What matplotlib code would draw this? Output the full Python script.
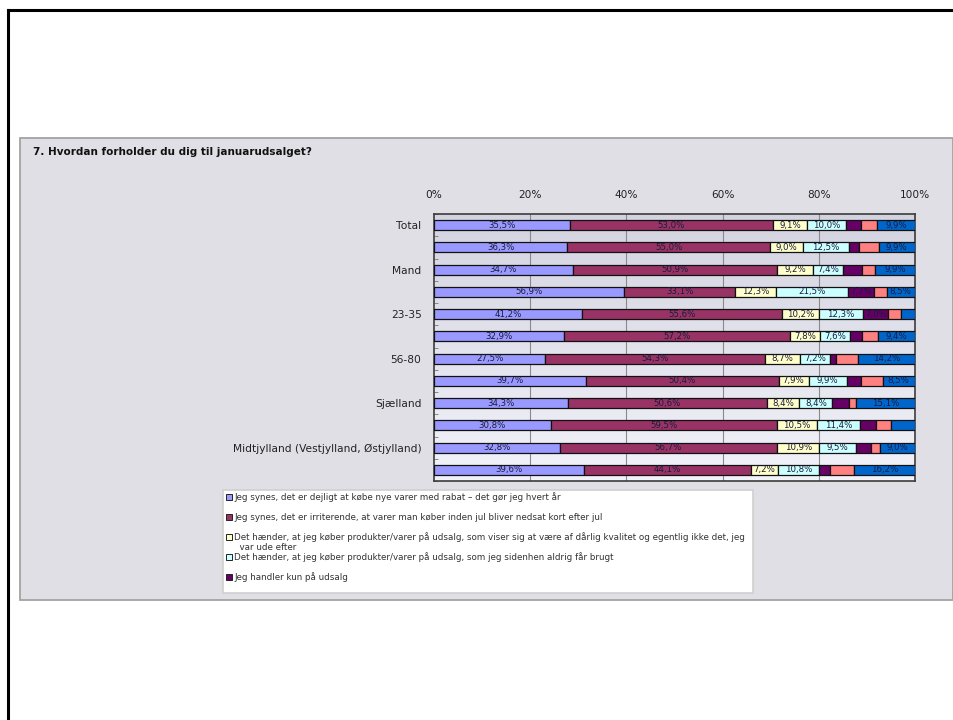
import matplotlib
matplotlib.use("Agg")
import matplotlib.pyplot as plt
import numpy as np
from matplotlib.patches import Rectangle
from matplotlib.lines import Line2D

plt.rcParams['font.family'] = ['DejaVu Sans']

# ---------------- data ----------------
title = "7. Hvordan forholder du dig til januarudsalget?"
categories = ["Total", "Kvinde", "Mand", "15-22", "23-35", "36-55", "56-80",
              "Hovedstaden", "Sjælland", "Syddanmark",
              "Midtjylland (Vestjylland, Østjylland)", "Nordjylland"]
shown_labels = ["Total", "", "Mand", "", "23-35", "", "56-80", "",
                "Sjælland", "", "Midtjylland (Vestjylland, Østjylland)", ""]

series_names = [
    "Jeg synes, det er dejligt at købe nye varer med rabat – det gør jeg hvert år",
    "Jeg synes, det er irriterende, at varer man køber inden jul bliver nedsat kort efter jul",
    "Det hænder, at jeg køber produkter/varer på udsalg, som viser sig at være af dårlig kvalitet og egentlig ikke det, jeg\n  var ude efter",
    "Det hænder, at jeg køber produkter/varer på udsalg, som jeg sidenhen aldrig får brugt",
    "Jeg handler kun på udsalg",
    "Andet",
    "Ved ikke",
]
series_colors = ["#9999FF", "#993366", "#FFFFCC", "#CCFFFF", "#660066", "#FF8080", "#0066CC"]

s1 = [35.5, 36.3, 34.7, 56.9, 41.2, 32.9, 27.5, 39.7, 34.3, 30.8, 32.8, 39.6]
s2 = [53.0, 55.0, 50.9, 33.1, 55.6, 57.2, 54.3, 50.4, 50.6, 59.5, 56.7, 44.1]
s3 = [9.1, 9.0, 9.2, 12.3, 10.2, 7.8, 8.7, 7.9, 8.4, 10.5, 10.9, 7.2]
s4 = [10.0, 12.5, 7.4, 21.5, 12.3, 7.6, 7.2, 9.9, 8.4, 11.4, 9.5, 10.8]
s5 = [3.9, 2.9, 4.8, 7.7, 7.0, 3.0, 1.7, 3.9, 4.3, 4.2, 4.0, 2.8]
s6 = [4.3, 5.2, 3.3, 3.8, 3.4, 4.0, 5.2, 5.5, 1.7, 4.1, 2.5, 6.3]
s7 = [9.9, 9.9, 9.9, 8.5, 4.0, 9.4, 14.2, 8.5, 15.1, 6.2, 9.0, 16.2]
series = [s1, s2, s3, s4, s5, s6, s7]

x_ticks = [0, 20, 40, 60, 80, 100]
x_ticklabels = ["0%", "20%", "40%", "60%", "80%", "100%"]

# ---------------- figure ----------------
W, H = 954, 720
fig = plt.figure(figsize=(W / 100, H / 100), dpi=100)
fig.patch.set_facecolor("white")

def fx(px):
    return px / W

def fy(py):
    return 1 - py / H

# outer page frame (top + left)
fig.add_artist(Line2D([fx(8), fx(954)], [fy(10), fy(10)], color="black", lw=2.2,
                      transform=fig.transFigure))
fig.add_artist(Line2D([fx(8), fx(8)], [fy(10), fy(720)], color="black", lw=2.2,
                      transform=fig.transFigure))

# chart area box
fig.add_artist(Rectangle((fx(20), fy(600)), fx(953) - fx(20), fy(138) - fy(600),
                         facecolor="#e0dfe5", edgecolor="#a3a3a3", lw=1.3,
                         transform=fig.transFigure, zorder=0))

fig.text(fx(33), fy(152), title, fontsize=7.5, fontweight="bold", va="center",
         ha="left", color="#111111")

# plot axes
ax = fig.add_axes([fx(434), fy(481), fx(915) - fx(434), fy(214) - fy(481)])
ax.set_zorder(2)

# gradient background
grad = np.linspace(0, 1, 256).reshape(-1, 1)
c_top = np.array([0.83, 0.83, 0.88])
c_bot = np.array([0.95, 0.95, 0.98])
img = c_top[None, None, :] * (1 - grad[:, :, None]) + c_bot[None, None, :] * grad[:, :, None]
ax.imshow(img, extent=[0, 1, 0, 1], transform=ax.transAxes, aspect="auto", zorder=0)

n = len(categories)
y = np.arange(n)
data = np.array(series, dtype=float)
totals = data.sum(axis=0)
norm = data / totals * 100
lefts = np.zeros(n)
for j in range(len(series)):
    ax.barh(y, norm[j], left=lefts, height=0.45, color=series_colors[j],
            edgecolor="#111111", linewidth=0.9, zorder=3)
    for i in range(n):
        v = data[j, i]
        if v >= 7.0:
            ax.text(lefts[i] + norm[j, i] / 2, y[i], f"{v:.1f}%".replace(".", ","),
                    ha="center", va="center", fontsize=6.2, color="#1a1a3a", zorder=4)
    lefts = lefts + norm[j]

ax.set_xlim(0, 100)
ax.set_ylim(n - 0.5, -0.5)
for xv in x_ticks[1:-1]:
    ax.axvline(xv, color="#8a8a8a", lw=0.8, zorder=1)

ax.xaxis.tick_top()
ax.set_xticks(x_ticks)
ax.set_xticklabels(x_ticklabels)
ax.set_yticks(y)
ax.set_yticklabels(shown_labels)
ax.set_yticks(np.arange(n + 1) - 0.5, minor=True)
ax.tick_params(axis="x", which="both", length=0, pad=10, labelsize=7.6, colors="#222222")
ax.tick_params(axis="y", which="major", length=0, pad=9, labelsize=7.7, colors="#222222")
ax.tick_params(axis="y", which="minor", direction="in", length=3, color="#777777")
for sp in ax.spines.values():
    sp.set_color("#3c3c3c")
    sp.set_linewidth(1.2)

# legend box (only first 5 entries visible, like the reference)
fig.add_artist(Rectangle((fx(223), fy(593)), fx(753) - fx(223), fy(490) - fy(593),
                         facecolor="white", edgecolor="#d0d0d0", lw=1.2,
                         transform=fig.transFigure, zorder=1))
for k in range(5):
    yc = 497 + 20 * k
    fig.add_artist(Rectangle((fx(226), fy(yc + 3)), fx(6), 6 / H,
                             facecolor=series_colors[k], edgecolor="#222222", lw=0.7,
                             transform=fig.transFigure, zorder=2))
    fig.text(fx(234), fy(yc - 4.5), series_names[k], fontsize=6.3, va="top", ha="left",
             color="#333333", linespacing=1.1, zorder=3)

fig.savefig("out.png", dpi=100, facecolor="white")
